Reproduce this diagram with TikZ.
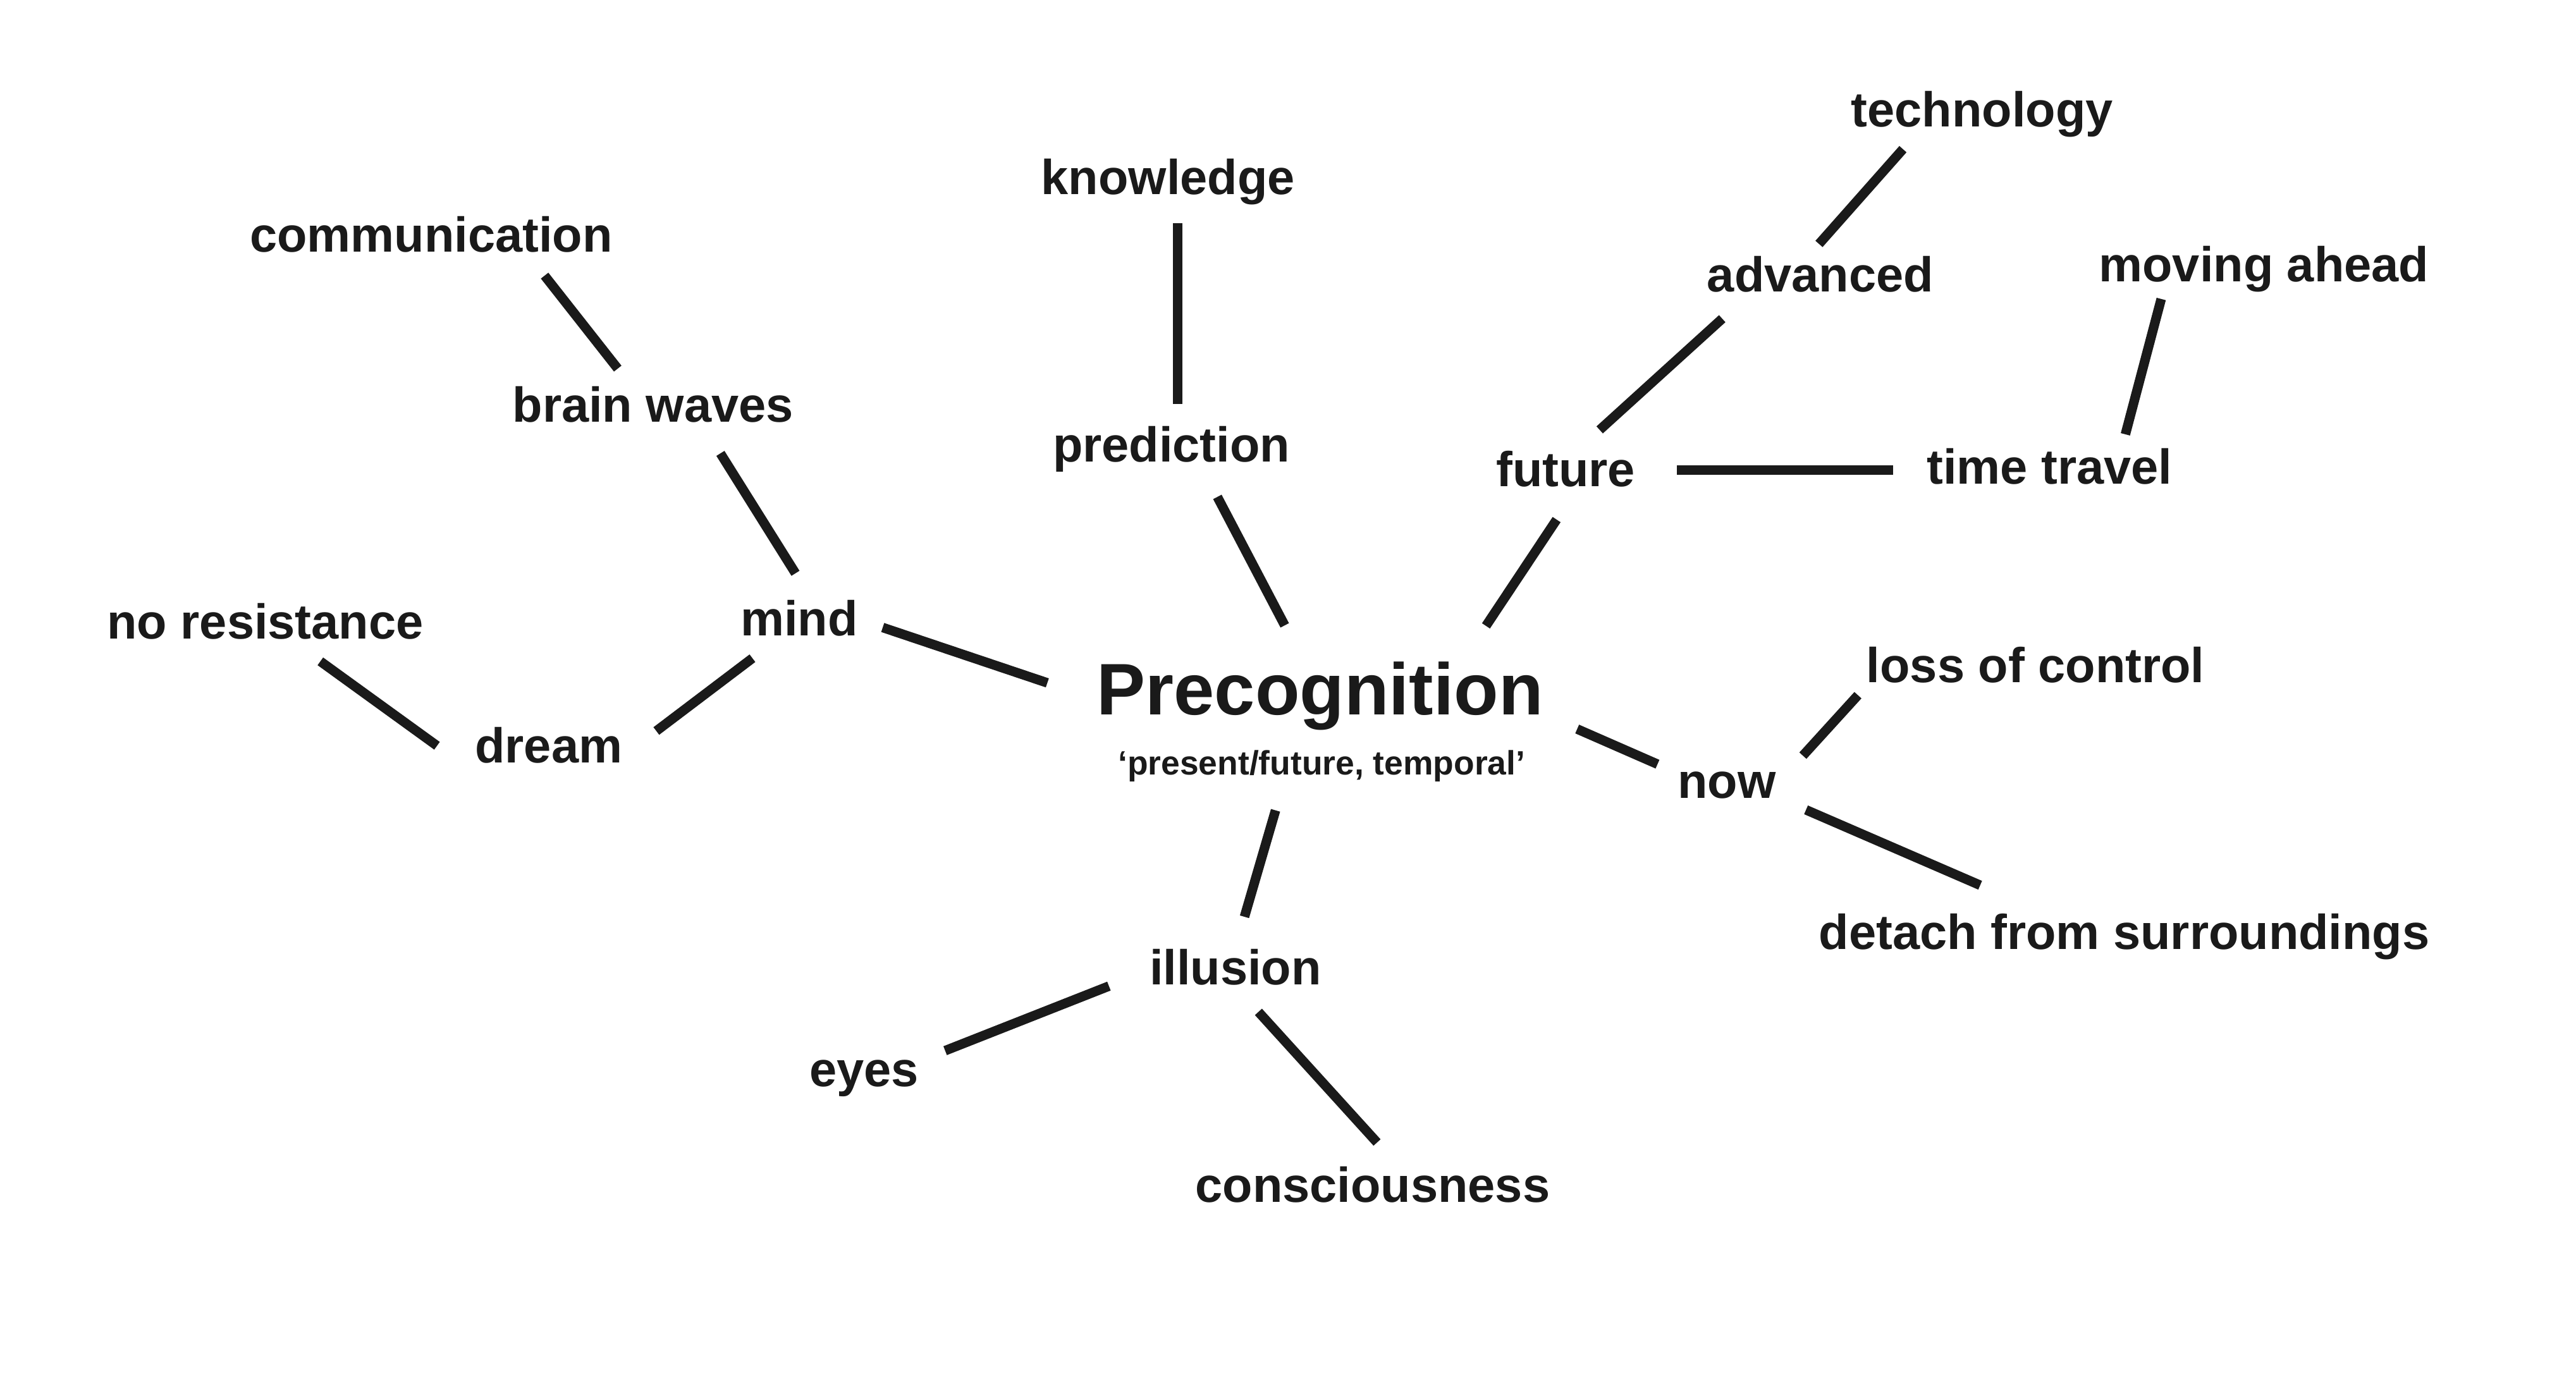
\documentclass[tikz,border=0pt]{standalone}
\usepackage{fontspec}
\setmainfont{Liberation Sans}
\definecolor{inkBlack}{HTML}{1A1A1A}
\tikzset{
  link/.style={draw=inkBlack, line width=3.3pt},
  term/.style={anchor=base, inner sep=0pt, text=inkBlack,
               font=\bfseries\fontsize{17}{20}\selectfont},
  core/.style={anchor=base, inner sep=0pt, text=inkBlack,
               font=\bfseries\fontsize{25.3}{30}\selectfont},
  coreSub/.style={anchor=base, inner sep=0pt, text=inkBlack,
                  font=\bfseries\fontsize{11.7}{14}\selectfont},
}

\begin{document}
\begin{tikzpicture}[x=0.02cm, y=0.02cm]
    \useasboundingbox (0,0) rectangle (1568,-838);
    % centre
    \node[core] (pc) at (803.5,-435) {Precognition};
    \node[coreSub] (pcs) at (804.5,-471.5) {‘present/future, temporal’};
    % branches
    \node[term] (know) at (711,-118.5) {knowledge};
    \node[term] (pred) at (713,-281) {prediction};
    \node[term] (comm) at (262.5,-153.5) {communication};
    \node[term] (bw) at (397.5,-257) {brain waves};
    \node[term] (mind) at (486.5,-387) {mind};
    \node[term] (nores) at (161.5,-389) {no resistance};
    \node[term] (dream) at (334,-464.5) {dream};
    \node[term] (tech) at (1206.5,-77) {technology};
    \node[term] (adv) at (1108,-177.5) {advanced};
    \node[term] (fut) at (953,-296) {future};
    \node[term] (tt) at (1247.5,-294.5) {time travel};
    \node[term] (mov) at (1378,-171.5) {moving ahead};
    \node[term] (now) at (1051,-486) {now};
    \node[term] (loss) at (1239,-415.5) {loss of control};
    \node[term] (det) at (1293,-578) {detach from surroundings};
    \node[term] (ill) at (752,-599.5) {illusion};
    \node[term] (eyes) at (526,-661.5) {eyes};
    \node[term] (cons) at (835.5,-732) {consciousness};

    \draw[link] ([shift={(6,-17.5)}]know.base) -- ([shift={(4,35)}]pred.base);
    \draw[link] ([shift={(28,-21.5)}]pred.base) -- ([shift={(-21.5,54.3)}]pc.base);
    \draw[link] ([shift={(69,-14.3)}]comm.base) -- ([shift={(-21.5,32.6)}]bw.base);
    \draw[link] ([shift={(41,-19)}]bw.base) -- ([shift={(-2.3,38)}]mind.base);
    \draw[link] ([shift={(50.8,5)}]mind.base) -- ([shift={(-166,19.3)}]pc.base);
    \draw[link] ([shift={(-28.5,-13.7)}]mind.base) -- ([shift={(65.5,19.5)}]dream.base);
    \draw[link] ([shift={(33.5,-13.6)}]nores.base) -- ([shift={(-68,10.5)}]dream.base);
    \draw[link] ([shift={(-5.5,-20.3)}]fut.base) -- ([shift={(101,54)}]pc.base);
    \draw[link] ([shift={(20.7,34.3)}]fut.base) -- ([shift={(-59.7,-16.5)}]adv.base);
    \draw[link] ([shift={(-0.8,29)}]adv.base) -- ([shift={(-48.2,-13.8)}]tech.base);
    \draw[link] ([shift={(67.8,10)}]fut.base) -- ([shift={(-95.1,8.5)}]tt.base);
    \draw[link] ([shift={(46.2,30.1)}]tt.base) -- ([shift={(-62.5,-10.5)}]mov.base);
    \draw[link] ([shift={(156.5,-8.8)}]pc.base) -- ([shift={(-42.1,20.8)}]now.base);
    \draw[link] ([shift={(46.4,26)}]now.base) -- ([shift={(-108.1,-7.7)}]loss.base);
    \draw[link] ([shift={(48.3,-7)}]now.base) -- ([shift={(-87.7,39.1)}]det.base);
    \draw[link] ([shift={(-27.1,-58.3)}]pc.base) -- ([shift={(5.5,41.4)}]ill.base);
    \draw[link] ([shift={(-77,-0.8)}]ill.base) -- ([shift={(49.3,21.9)}]eyes.base);
    \draw[link] ([shift={(14,-16.5)}]ill.base) -- ([shift={(2.7,36.5)}]cons.base);
\end{tikzpicture}
\end{document}
